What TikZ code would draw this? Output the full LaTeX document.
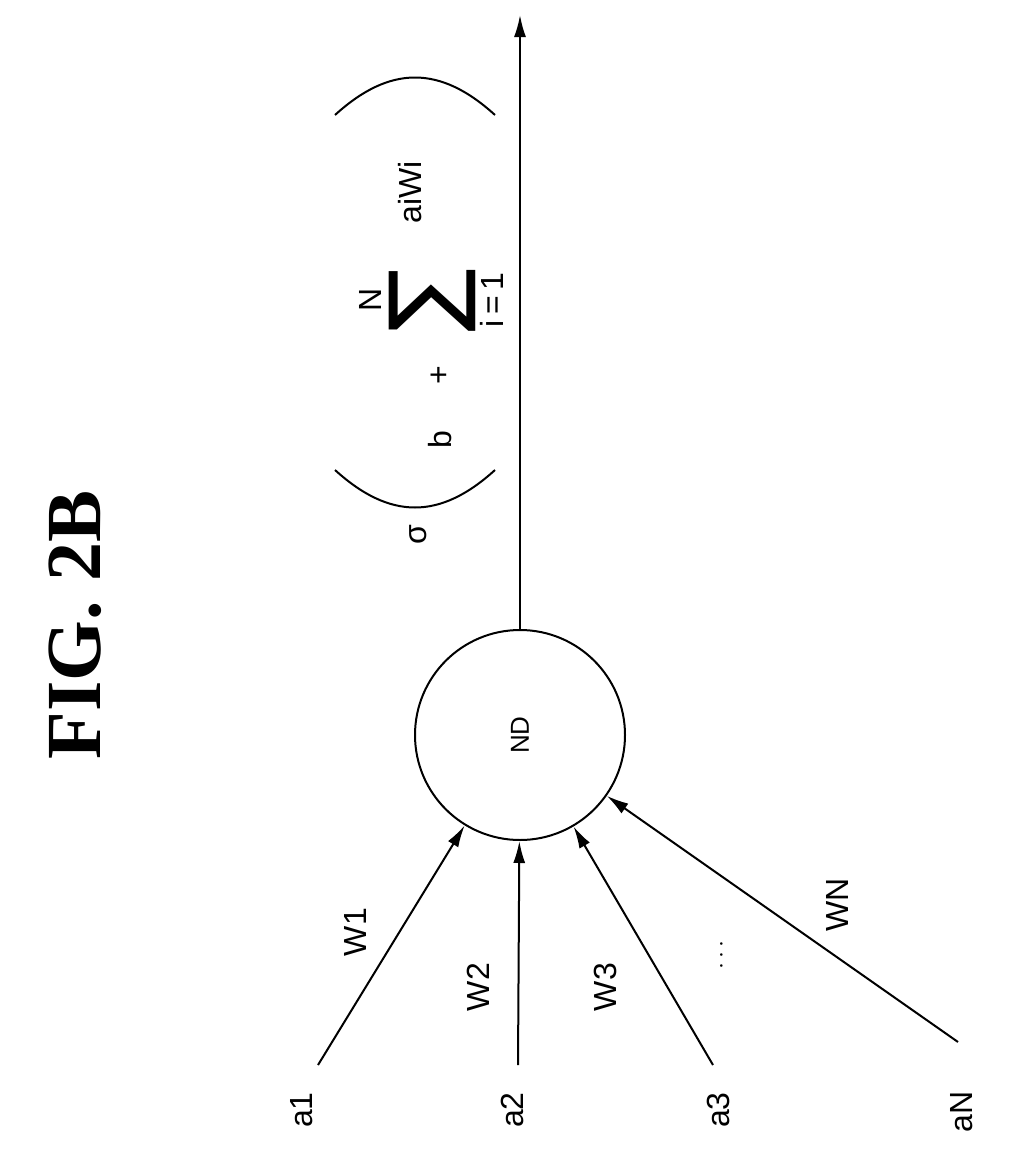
\documentclass[tikz,border=0pt]{standalone}
\usepackage{fontspec}
\setmainfont{Liberation Sans}
\newfontfamily\figfont{Liberation Serif}
\newfontfamily\symfont{DejaVu Sans}
\usetikzlibrary{arrows.meta}
\begin{document}
\begin{tikzpicture}[x=1pt,y=-1pt,
  lbl/.style={rotate=90,font=\fontsize{32}{32}\selectfont},
  wire/.style={line width=2pt,-{Latex[length=22pt,width=12pt]}}]
\useasboundingbox (0,0) rectangle (1016,1159);
\node[rotate=90,font=\figfont\bfseries\fontsize{78}{78}\selectfont] (fig) at (75,625) {FIG.\ 2B};
% neuron
\node[circle,draw,line width=2pt,minimum size=210pt,inner sep=0pt] (nd) at (520,735) {};
\node[lbl,font=\fontsize{26}{26}\selectfont] (ndl) at (520,735) {ND};
\coordinate (out) at (520,15);
\draw[wire] (nd) -- (out);
% output formula
\node[lbl] (sig) at (418,535) {σ};
\draw[line width=2pt] (335,470) .. controls (390,520) and (440,520) .. (495,470);
\node[lbl] (b) at (440,440) {b};
\node[lbl] (plus) at (440,375) {+};
\node[lbl] (n) at (370,300) {N};
\node[rotate=90,font=\symfont\fontsize{95}{95}\selectfont] (sum) at (432,300) {∑};
\node[lbl] (i1) at (492,300) {i\,=\,1};
\node[lbl] (aiwi) at (410,192) {aiWi};
\draw[line width=2pt] (335,115) .. controls (390,65) and (440,65) .. (495,115);
% inputs
\coordinate (s1) at (318,1065);
\coordinate (s2) at (518,1065);
\coordinate (s3) at (713,1065);
\coordinate (sN) at (958,1042);
\draw[wire] (s1) -- (nd);
\draw[wire] (s2) -- (nd);
\draw[wire] (s3) -- (nd);
\draw[wire] (sN) -- (nd);
\node[lbl] (a1) at (302,1110) {a1};
\node[lbl] (a2) at (512,1110) {a2};
\node[lbl] (a3) at (718,1110) {a3};
\node[lbl] (aN) at (962,1112) {aN};
\node[lbl] (w1) at (355,932) {W1};
\node[lbl] (w2) at (478,987) {W2};
\node[lbl] (w3) at (605,987) {W3};
\node[lbl] (dots) at (722,955) {$\cdots$};
\node[lbl] (wN) at (837,905) {WN};
\end{tikzpicture}
\end{document}
